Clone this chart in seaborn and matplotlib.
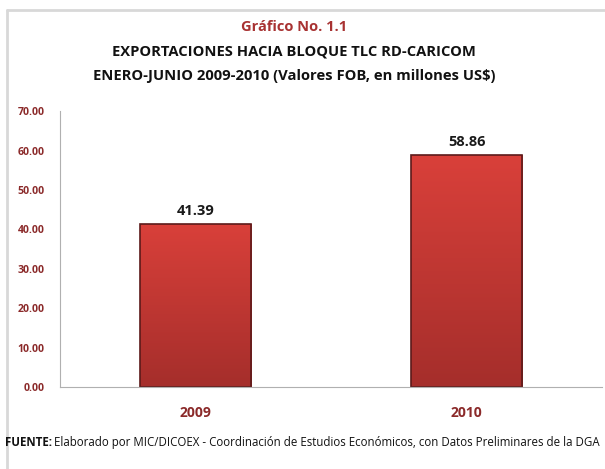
import seaborn as sns
import pandas as pd
import matplotlib.pyplot as plt
import numpy as np
from matplotlib.colors import LinearSegmentedColormap

# data
years = ["2009", "2010"]
values = [41.39, 58.86]
y_ticks = [0, 10, 20, 30, 40, 50, 60, 70]

df = pd.DataFrame({"year": years, "value": values})

sns.set_style("white")
plt.rcParams["font.family"] = ["Open Sans", "DejaVu Sans"]

fig = plt.figure(figsize=(6.05, 4.69), dpi=100)
ax = fig.add_axes([0.0992, 0.1748, 0.896, 0.588])

sns.barplot(data=df, x="year", y="value", ax=ax, color="#c8383a",
            width=0.41, edgecolor="#5c1a1a", linewidth=1.2)

ax.set_ylim(0, 70)
ax.set_yticks(y_ticks)
ax.set_yticklabels([f"{t:.2f}" for t in y_ticks], color="#8b2a2a",
                   fontsize=7.6, fontweight="bold")
ax.set_xticklabels(years, color="#8b2a2a", fontsize=10, fontweight="bold")
ax.tick_params(axis="x", length=0, pad=14)
ax.tick_params(axis="y", length=0, pad=11)
ax.set_xlabel("")
ax.set_ylabel("")

for s in ["top", "right"]:
    ax.spines[s].set_visible(False)
ax.spines["left"].set_color("#b0b0b0")
ax.spines["bottom"].set_color("#b0b0b0")
ax.spines["left"].set_linewidth(0.8)
ax.spines["bottom"].set_linewidth(0.8)

# gradient fill on bars
cmap = LinearSegmentedColormap.from_list("bar", ["#a52e2b", "#d9403a"])
grad = np.linspace(0, 1, 256).reshape(-1, 1)
for p in ax.patches:
    x0, y0 = p.get_x(), p.get_y()
    w, h = p.get_width(), p.get_height()
    im = ax.imshow(grad, extent=[x0, x0 + w, y0, y0 + h], origin="lower",
                   cmap=cmap, aspect="auto", zorder=p.get_zorder() + 0.1)
    im.set_clip_path(p)
    p.set_facecolor("none")
    p.set_zorder(p.get_zorder() + 0.2)
ax.set_xlim(-0.5, 1.5)
ax.set_ylim(0, 70)

for i, v in enumerate(values):
    ax.text(i, v + 1.6, f"{v:.2f}", ha="center", va="bottom",
            fontsize=10.5, fontweight="bold", color="#1a1a1a")

fig.text(0.486, 0.942, "Gráfico No. 1.1", ha="center", va="center",
         fontsize=10.5, fontweight="bold", color="#a83232")
fig.text(0.486, 0.891, "EXPORTACIONES HACIA BLOQUE TLC RD-CARICOM",
         ha="center", va="center", fontsize=10.6, fontweight="bold", color="#111111")
fig.text(0.486, 0.838, "ENERO-JUNIO 2009-2010 (Valores FOB, en millones US$)",
         ha="center", va="center", fontsize=10.6, fontweight="bold", color="#111111")

# footer: bold label followed by the source text
lab = fig.text(0.008, 0.056, "FUENTE:", ha="left", va="center", fontsize=8.3,
               fontweight="bold", color="#111111")
fig.canvas.draw()
bb = lab.get_window_extent().transformed(fig.transFigure.inverted())
fig.text(bb.x1 + 0.003, 0.056,
         "Elaborado por MIC/DICOEX - Coordinación de Estudios Económicos, con Datos Preliminares de la DGA",
         ha="left", va="center", fontsize=8.3, color="#111111")

# light frame lines
fig.add_artist(plt.Line2D([0.0116, 1.0], [0.979, 0.979], color="#d8d8d8",
                          linewidth=2, transform=fig.transFigure))
fig.add_artist(plt.Line2D([0.0116, 0.0116], [0.0, 0.979], color="#d8d8d8",
                          linewidth=2, transform=fig.transFigure))

fig.savefig("out.png", dpi=100)
